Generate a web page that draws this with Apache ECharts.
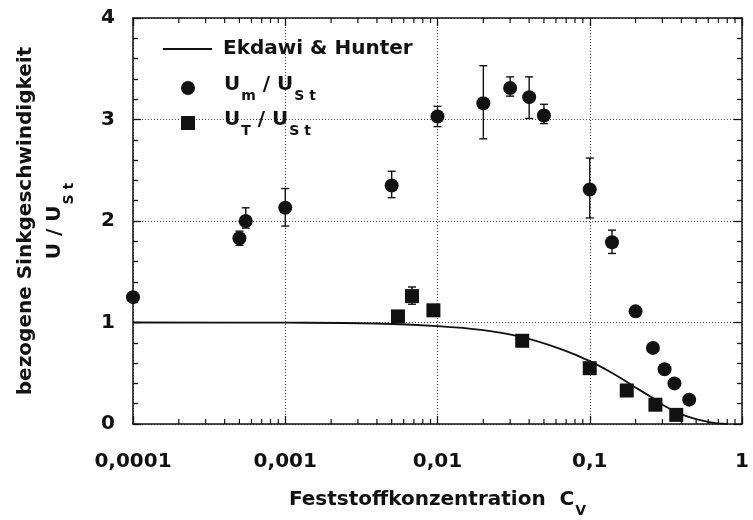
<!DOCTYPE html>
<html><head><meta charset="utf-8">
<script src="https://cdn.jsdelivr.net/npm/echarts@6/dist/echarts.min.js"></script>
<style>html,body{margin:0;padding:0;background:#fff}#c{width:753px;height:520px}</style>
</head><body><div id="c"></div>
<script>
// ---- data ----
const xTickValues = [0.0001, 0.001, 0.01, 0.1, 1];
const xTickLabels = ['0,0001', '0,001', '0,01', '0,1', '1'];
const yTickValues = [0, 1, 2, 3, 4];

// U_m / U_St (circles)
const umC = [0.0001, 0.0005, 0.00055, 0.001, 0.005, 0.01, 0.02, 0.03, 0.04, 0.05, 0.1, 0.14, 0.2, 0.26, 0.31, 0.36, 0.45];
const umV = [1.25, 1.83, 2.0, 2.13, 2.35, 3.03, 3.16, 3.31, 3.22, 3.04, 2.31, 1.79, 1.11, 0.75, 0.54, 0.40, 0.24];
const umLo = [null, 1.76, 1.93, 1.95, 2.23, 2.93, 2.81, 3.23, 3.01, 2.96, 2.03, 1.68, null, null, null, null, null];
const umHi = [null, 1.90, 2.13, 2.32, 2.49, 3.13, 3.53, 3.42, 3.42, 3.15, 2.62, 1.91, null, null, null, null, null];

// U_T / U_St (squares)
const utC = [0.0055, 0.0068, 0.0094, 0.036, 0.1, 0.175, 0.27, 0.37];
const utV = [1.06, 1.26, 1.12, 0.82, 0.55, 0.33, 0.19, 0.09];
const utLo = [null, 1.18, null, null, null, null, null, null];
const utHi = [null, 1.35, null, null, null, null, null, null];

// Ekdawi & Hunter curve
const ehC = [0.0001, 0.001, 0.004, 0.01, 0.02, 0.035, 0.064, 0.1, 0.145, 0.195, 0.25, 0.3, 0.38, 0.48, 0.6, 0.7, 0.8];
const ehV = [1.0, 0.998, 0.99, 0.965, 0.925, 0.86, 0.74, 0.62, 0.49, 0.37, 0.27, 0.19, 0.11, 0.055, 0.02, 0.006, 0.0];

const FONT = 'DejaVu Sans';
const INK = '#111';

const zip = (a, b) => a.map((v, i) => [v, b[i]]);
const errData = (c, lo, hi) => c.map((v, i) => [v, lo[i], hi[i]]).filter(d => d[1] != null);

// log minor tick positions (axis decoration)
const minorX = [];
for (let e = -4; e < 0; e++) for (let k = 2; k <= 9; k++) minorX.push([k * Math.pow(10, e), 0]);

function fmtX(v) {
  let best = 0, bd = Infinity;
  xTickValues.forEach((t, i) => { const d = Math.abs(Math.log10(v) - Math.log10(t)); if (d < bd) { bd = d; best = i; } });
  return xTickLabels[best];
}

const main = { fontFamily: FONT, fontWeight: 'bold', fontSize: 20, color: INK, lineHeight: 26, verticalAlign: 'top' };
const sub = { fontFamily: FONT, fontWeight: 'bold', fontSize: 14, color: INK, lineHeight: 14, verticalAlign: 'top', padding: [14, 0, 0, 1] };

const chart = echarts.init(document.getElementById('c'));
const tickStyle = { color: INK, width: 1.3 };
const gridLine = { show: true, lineStyle: { color: '#444', type: [1, 2], width: 1 } };

function errRender(params, api) {
  const x = api.value(0);
  const lo = api.coord([x, api.value(1)]);
  const hi = api.coord([x, api.value(2)]);
  const w = 4;
  const st = { stroke: INK, lineWidth: 1.4 };
  return { type: 'group', children: [
    { type: 'line', shape: { x1: lo[0], y1: lo[1], x2: hi[0], y2: hi[1] }, style: st },
    { type: 'line', shape: { x1: hi[0] - w, y1: hi[1], x2: hi[0] + w, y2: hi[1] }, style: st },
    { type: 'line', shape: { x1: lo[0] - w, y1: lo[1], x2: lo[0] + w, y2: lo[1] }, style: st }
  ] };
}

function minorRender(params, api) {
  const x = api.value(0);
  const b = api.coord([x, 0]);
  const t = api.coord([x, 4]);
  const st = { stroke: INK, lineWidth: 1.2 };
  return { type: 'group', children: [
    { type: 'line', shape: { x1: b[0], y1: b[1], x2: b[0], y2: b[1] - 5 }, style: st },
    { type: 'line', shape: { x1: t[0], y1: t[1], x2: t[0], y2: t[1] + 5 }, style: st }
  ] };
}

const option = {
  animation: false,
  backgroundColor: '#fff',
  grid: { left: 133, right: 11, top: 18, bottom: 96, outerBoundsMode: 'none', containLabel: false },
  legend: [
    {
      data: [{ name: 'Ekdawi & Hunter', icon: 'rect' }], left: 158, top: 34, itemWidth: 49, itemHeight: 2,
      selectedMode: false, itemStyle: { color: INK },
      textStyle: { fontFamily: FONT, fontWeight: 'bold', fontSize: 20, color: INK, padding: [0, 0, 0, 6] }
    },
    {
      data: ['Um', 'UT'], orient: 'vertical', left: 176, top: 70, itemWidth: 14, itemHeight: 14, itemGap: 7,
      selectedMode: false,
      formatter: n => n === 'Um' ? '{a|U}{s|m}{a| / U}{s|S t}' : '{a|U}{s|T}{a| / U}{s|S t}',
      textStyle: { padding: [0, 0, 0, 24], rich: { a: main, s: sub } }
    }
  ],
  xAxis: [
    {
      type: 'log', logBase: 10, min: 0.0001, max: 1, position: 'bottom',
      name: '{a|Feststoffkonzentration  C}{v|V}', nameLocation: 'middle', nameGap: 66,
      nameTextStyle: { rich: { a: main, v: sub } },
      axisLine: { show: true, onZero: false, lineStyle: { color: INK, width: 1.5 } },
      axisTick: { show: true, inside: true, length: 8, lineStyle: tickStyle },
      axisLabel: { show: true, margin: 28, formatter: fmtX, fontFamily: FONT, fontWeight: 'bold', fontSize: 20, color: INK },
      splitLine: gridLine
    },
    {
      type: 'log', logBase: 10, min: 0.0001, max: 1, position: 'top',
      axisLine: { show: true, onZero: false, lineStyle: { color: INK, width: 1.5 } },
      axisTick: { show: true, inside: true, length: 8, lineStyle: tickStyle },
      axisLabel: { show: false }, splitLine: { show: false }
    }
  ],
  yAxis: [
    {
      type: 'value', min: yTickValues[0], max: yTickValues[yTickValues.length - 1], interval: 1, position: 'left',
      name: '{a|bezogene Sinkgeschwindigkeit}\n{a|U / U}{s|S t}', nameLocation: 'middle', nameRotate: 90, nameGap: 59,
      nameTextStyle: { rich: { a: Object.assign({}, main, { lineHeight: 29 }), s: Object.assign({}, sub, { padding: [17, 0, 0, 1] }) } },
      axisLine: { show: true, lineStyle: { color: INK, width: 1.5 } },
      axisTick: { show: true, inside: true, length: 8, lineStyle: tickStyle },
      minorTick: { show: true, splitNumber: 5, length: 5, lineStyle: tickStyle },
      axisLabel: { show: true, margin: 18, fontFamily: FONT, fontWeight: 'bold', fontSize: 20, color: INK },
      splitLine: gridLine
    },
    {
      type: 'value', min: yTickValues[0], max: yTickValues[yTickValues.length - 1], interval: 1, position: 'right',
      axisLine: { show: true, lineStyle: { color: INK, width: 1.5 } },
      axisTick: { show: true, inside: true, length: 8, lineStyle: tickStyle },
      minorTick: { show: true, splitNumber: 5, length: 5, lineStyle: tickStyle },
      axisLabel: { show: false }, splitLine: { show: false }
    }
  ],
  series: [
    { type: 'custom', name: 'minor', renderItem: minorRender, data: minorX, encode: { x: 0, y: 1 }, silent: true, z: 1 },
    { type: 'custom', name: 'errUm', renderItem: errRender, data: errData(umC, umLo, umHi), encode: { x: 0, y: [1, 2] }, z: 2 },
    { type: 'custom', name: 'errUt', renderItem: errRender, data: errData(utC, utLo, utHi), encode: { x: 0, y: [1, 2] }, z: 2 },
    {
      type: 'line', name: 'Ekdawi & Hunter', data: zip(ehC, ehV), showSymbol: false, symbol: 'none',
      smooth: 0.4, lineStyle: { color: INK, width: 1.8 }, itemStyle: { color: INK }, z: 3
    },
    {
      type: 'scatter', name: 'Um', data: zip(umC, umV), symbol: 'circle', symbolSize: 14, clip: false,
      itemStyle: { color: INK, opacity: 1 }, z: 4
    },
    {
      type: 'scatter', name: 'UT', data: zip(utC, utV), symbol: 'rect', symbolSize: 14, clip: false,
      itemStyle: { color: INK, opacity: 1 }, z: 4
    }
  ]
};
chart.setOption(option);
</script>
</body></html>
